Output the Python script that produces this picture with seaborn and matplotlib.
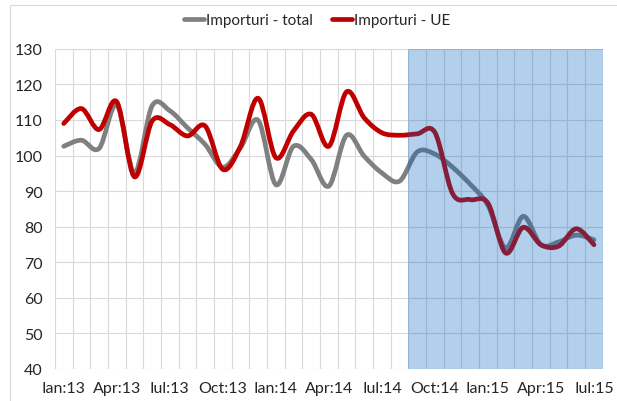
import pandas as pd
import matplotlib
matplotlib.use("Agg")
import matplotlib.pyplot as plt
from matplotlib.path import Path
from matplotlib.patches import PathPatch
from matplotlib.lines import Line2D
import seaborn as sns

months = ['Ian:13', 'Feb:13', 'Mar:13', 'Apr:13', 'Mai:13', 'Iun:13', 'Iul:13', 'Aug:13',
          'Sep:13', 'Oct:13', 'Noi:13', 'Dec:13', 'Ian:14', 'Feb:14', 'Mar:14', 'Apr:14',
          'Mai:14', 'Iun:14', 'Iul:14', 'Aug:14', 'Sep:14', 'Oct:14', 'Noi:14', 'Dec:14',
          'Ian:15', 'Feb:15', 'Mar:15', 'Apr:15', 'Mai:15', 'Iun:15', 'Iul:15']
importuri_total = [102.6, 104.3, 102.0, 114.2, 95.1, 114.0, 112.6, 107.8, 103.1, 96.7, 102.2,
                   109.9, 91.8, 102.6, 98.9, 91.4, 105.7, 99.8, 95.1, 92.8, 101.0, 100.4,
                   96.7, 91.9, 86.0, 74.0, 82.9, 74.9, 75.7, 77.6, 76.3]
importuri_ue = [109.0, 113.2, 107.3, 115.1, 94.0, 109.7, 108.7, 105.5, 108.3, 96.1, 102.6,
                116.1, 99.4, 106.9, 111.6, 102.6, 117.9, 110.6, 106.4, 105.7, 106.1, 106.5,
                89.3, 87.6, 86.6, 72.6, 79.8, 74.9, 74.5, 79.4, 74.9]
series_names = ['Importuri - total', 'Importuri - UE']
shade_from = 'Sep:14'

df = pd.DataFrame({'pos': range(len(months)), 'luna': months,
                   series_names[0]: importuri_total, series_names[1]: importuri_ue})
df_long = df.melt(id_vars=['pos', 'luna'], var_name='serie', value_name='indice')

sns.set_style('white')
plt.rcParams['font.family'] = ['Lato', 'DejaVu Sans']

fig = plt.figure(figsize=(6.17, 4.02), dpi=100)
ax = fig.add_axes([0.089, 0.080, 0.888, 0.796])

colors = {series_names[0]: '#808080', series_names[1]: '#c00000'}
sns.lineplot(data=df_long, x='pos', y='indice', hue='serie', palette=colors,
             linewidth=3.2, ax=ax, legend=False)


def smooth_path(xs, ys):
    # excel-like smoothed line: cubic bezier through every point
    verts = [(xs[0], ys[0])]
    codes = [Path.MOVETO]
    n = len(xs)
    for i in range(n - 1):
        xp, yp = (xs[i - 1], ys[i - 1]) if i > 0 else (xs[i], ys[i])
        xn, yn = (xs[i + 2], ys[i + 2]) if i < n - 2 else (xs[i + 1], ys[i + 1])
        c1 = (xs[i] + (xs[i + 1] - xp) / 6, ys[i] + (ys[i + 1] - yp) / 6)
        c2 = (xs[i + 1] - (xn - xs[i]) / 6, ys[i + 1] - (yn - ys[i]) / 6)
        verts += [c1, c2, (xs[i + 1], ys[i + 1])]
        codes += [Path.CURVE4] * 3
    return Path(verts, codes)


handles = []
for line, name in zip(ax.lines, series_names):
    xy = line.get_xydata()
    patch = PathPatch(smooth_path(xy[:, 0], xy[:, 1]), fill=False,
                      edgecolor=line.get_color(), lw=3.4, capstyle='round',
                      joinstyle='round', zorder=2)
    ax.add_patch(patch)
    handles.append(Line2D([], [], color=line.get_color(), lw=3.4, label=name))
    line.set_visible(False)

start = months.index(shade_from)
ax.axvspan(start - 0.5, len(months) - 0.5, color=(0.0, 0.39, 0.75), alpha=0.3,
           lw=0, zorder=3)

ax.set_xlim(-0.5, len(months) - 0.5)
ax.set_ylim(40, 130)
ax.set_yticks(range(40, 131, 10))
ax.set_xticks(range(0, len(months), 3))
ax.set_xticklabels(months[::3])
ax.set_xticks([p - 0.5 for p in range(len(months) + 1)], minor=True)
ax.grid(axis='y', which='major', color='#d9d9d9', lw=0.8)
ax.grid(axis='x', which='minor', color='#d9d9d9', lw=0.8)
ax.grid(axis='x', which='major', visible=False)
ax.set_axisbelow(True)
ax.tick_params(axis='both', which='both', length=0, labelsize=11.5,
               labelcolor='#262626', pad=9)
ax.set_xlabel('')
ax.set_ylabel('')
for s in ax.spines.values():
    s.set_visible(False)

fig.legend(handles=handles, loc='center', bbox_to_anchor=(0.514, 0.948), ncol=2,
           frameon=False, fontsize=11, handlelength=1.3, handletextpad=0.1,
           columnspacing=1.3, labelcolor='#262626')

# outer chart frame
fig.add_artist(Line2D([10 / 617, 10 / 617], [0, 1 - 6 / 402], color='#d9d9d9', lw=0.8))
fig.add_artist(Line2D([10 / 617, 1], [1 - 6 / 402, 1 - 6 / 402], color='#d9d9d9', lw=0.8))

fig.savefig('out.png', dpi=100, facecolor='white')
